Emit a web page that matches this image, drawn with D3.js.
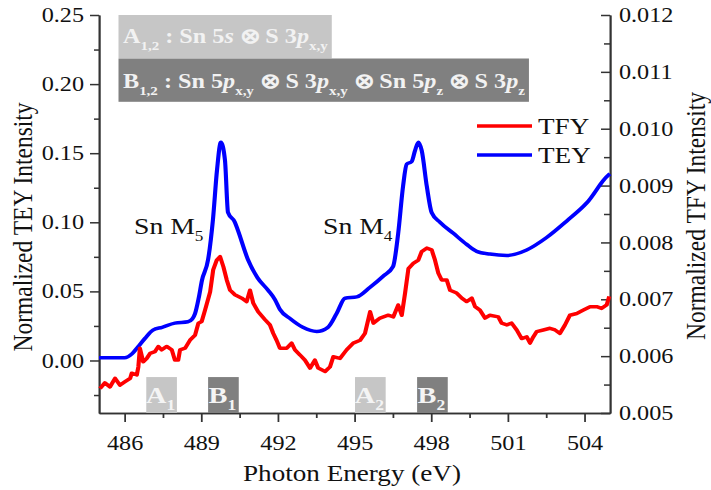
<!DOCTYPE html>
<html>
<head>
<meta charset="utf-8">
<script src="https://cdn.jsdelivr.net/npm/d3@7"></script>
<style>
  html, body { margin: 0; padding: 0; background: #fff; }
  svg { display: block; }
  text { font-family: "Liberation Serif", "Times New Roman", serif; fill: #111; }
  .axis path, .axis line { stroke: #333; stroke-width: 1.5; }
  .axis text { font-family: "Liberation Serif", "Times New Roman", serif; font-size: 20.5px; fill: #111; }
</style>
</head>
<body>
<svg id="chart"></svg>
<script>
// ---------- data ----------
const teyEnergy = [485.0, 485.5, 486.0, 486.3, 486.53, 486.8, 487.11, 487.47, 487.97, 488.48, 488.65, 488.76, 488.9,
  489.03, 489.27, 489.46, 489.62, 489.77, 489.93, 490.05, 490.32, 490.44, 490.83, 491.2, 491.61, 491.89, 492.08,
  492.5, 492.98, 493.52, 493.96, 494.3, 494.63, 495.09, 495.61, 496.12, 496.51, 496.71, 496.9, 497.04, 497.24,
  497.37, 497.5, 497.63, 497.83, 498.02, 498.35, 498.87, 499.39, 499.78, 500.3, 500.96, 501.74, 502.52, 503.31,
  504.09, 504.93, 505.0];
const teyValues = [0.002, 0.002, 0.002, 0.005, 0.010, 0.016, 0.022, 0.024, 0.027, 0.028, 0.030, 0.034, 0.045,
  0.058, 0.073, 0.102, 0.138, 0.158, 0.145, 0.107, 0.100, 0.094, 0.073, 0.060, 0.051, 0.044, 0.037,
  0.030, 0.024, 0.021, 0.024, 0.034, 0.045, 0.046, 0.053, 0.061, 0.068, 0.092, 0.126, 0.142, 0.144,
  0.152, 0.158, 0.152, 0.126, 0.107, 0.100, 0.092, 0.084, 0.079, 0.077, 0.076, 0.080, 0.089, 0.101,
  0.114, 0.134, 0.135];

const tfyEnergy = [485.04, 485.23, 485.43, 485.63, 485.82, 486.02, 486.22, 486.28, 486.48, 486.54, 486.6, 486.73,
  486.87, 487.0, 487.19, 487.32, 487.45, 487.65, 487.85, 487.97, 488.1, 488.17, 488.37, 488.56, 488.76, 488.89,
  489.02, 489.15, 489.35, 489.47, 489.61, 489.74, 489.87, 490.0, 490.13, 490.32, 490.59, 490.78, 490.91, 491.04,
  491.23, 491.5, 491.69, 491.82, 491.95, 492.08, 492.35, 492.54, 492.67, 492.87, 493.06, 493.26, 493.45, 493.58,
  493.85, 494.04, 494.17, 494.43, 494.69, 494.95, 495.22, 495.41, 495.61, 495.74, 496.0, 496.32, 496.52, 496.71,
  496.85, 496.98, 497.11, 497.3, 497.5, 497.63, 497.83, 498.02, 498.15, 498.28, 498.41, 498.61, 498.74, 499.0,
  499.2, 499.39, 499.59, 499.72, 499.91, 500.11, 500.3, 500.63, 500.76, 500.96, 501.15, 501.35, 501.54, 501.74,
  501.87, 502.0, 502.13, 502.39, 502.65, 502.85, 503.04, 503.24, 503.43, 503.7, 503.96, 504.22, 504.48, 504.67,
  504.87, 504.97];
const tfyValues = [0.00543, 0.00553, 0.00546, 0.00561, 0.00549, 0.00555, 0.00561, 0.00570, 0.00567, 0.00581, 0.00614, 0.00590,
  0.00596, 0.00605, 0.00608, 0.00617, 0.00611, 0.00617, 0.00611, 0.00593, 0.00593, 0.00611, 0.00614, 0.00628, 0.00637, 0.00658,
  0.00661, 0.00681, 0.00713, 0.00752, 0.00769, 0.00775, 0.00757, 0.00734, 0.00716, 0.00708, 0.00702, 0.00696, 0.00716, 0.00693,
  0.00678, 0.00664, 0.00655, 0.00640, 0.00628, 0.00614, 0.00614, 0.00623, 0.00611, 0.00602, 0.00593, 0.00579, 0.00593, 0.00579,
  0.00573, 0.00581, 0.00599, 0.00596, 0.00611, 0.00623, 0.00628, 0.00640, 0.00678, 0.00658, 0.00667, 0.00672, 0.00669, 0.00690,
  0.00672, 0.00711, 0.00754, 0.00763, 0.00769, 0.00784, 0.00790, 0.00787, 0.00769, 0.00746, 0.00734, 0.00734, 0.00716, 0.00711,
  0.00702, 0.00696, 0.00702, 0.00687, 0.00681, 0.00667, 0.00672, 0.00669, 0.00658, 0.00655, 0.00658, 0.00646, 0.00631, 0.00634,
  0.00623, 0.00634, 0.00643, 0.00646, 0.00649, 0.00646, 0.00640, 0.00655, 0.00672, 0.00675, 0.00681, 0.00687, 0.00687, 0.00684,
  0.00690, 0.00705];

const xTicks = [486, 489, 492, 495, 498, 501, 504];
const xMinorTicks = [487.5, 490.5, 493.5, 496.5, 499.5, 502.5];
const yLeftTicks = [0, 0.05, 0.10, 0.15, 0.20, 0.25];
const yLeftMinorTicks = [-0.025, 0.025, 0.075, 0.125, 0.175, 0.225];
const yRightTicks = [0.005, 0.006, 0.007, 0.008, 0.009, 0.010, 0.011, 0.012];
const yRightMinorTicks = [0.0055, 0.0065, 0.0075, 0.0085, 0.0095, 0.0105, 0.0115];

const markerNames = ['A', 'B', 'A', 'B'];
const markerSubs = ['1', '1', '2', '2'];
const markerCenters = [487.45, 489.87, 495.62, 498.05];
const markerTop = -0.012;
const markerHalfWidth = 0.6;

const seriesNames = ['TFY', 'TEY'];
const edgeLabels = [
  {name: 'Sn M', sub: '5', at: 134},
  {name: 'Sn M', sub: '4', at: 323}
];

// text of the two grey boxes at the top
const boxA = [{t: 'A'}, {t: '1,2', sub: true}, {t: ' : Sn 5'}, {t: 's', it: true}, {t: ' \u2297 S 3'}, {t: 'p', it: true}, {t: 'x,y', sub: true}];
const boxB = [{t: 'B'}, {t: '1,2', sub: true}, {t: ' : Sn 5'}, {t: 'p', it: true}, {t: 'x,y', sub: true},
  {t: ' \u2297 S 3'}, {t: 'p', it: true}, {t: 'x,y', sub: true}, {t: ' \u2297 Sn 5'}, {t: 'p', it: true}, {t: 'z', sub: true},
  {t: ' \u2297 S 3'}, {t: 'p', it: true}, {t: 'z', sub: true}];

// ---------- chart ----------
// the reference is stretched sideways, so draw in a narrower box and let the viewBox widen it
const SX = 1.18;
const vx = px => px / SX;

const chart = {
  option: {
    width: 711,
    height: 490,
    margin: {top: 15, right: 101, bottom: 77, left: 99},
    colors: {TFY: '#ff0000', TEY: '#0000ff', A: '#c6c6c6', B: '#808080'}
  }
};

function translate(x, y) {
  return `translate(${x}, ${y})`;
}

function richText(parent, parts, size) {
  const text = parent.append('text').style('font-size', size + 'px');
  let shift = 0;
  parts.forEach(p => {
    const want = p.sub ? size * 0.3 : 0;
    text.append('tspan')
      .attr('dy', want - shift)
      .style('font-size', p.sub ? (size * 0.62) + 'px' : null)
      .style('font-style', p.it ? 'italic' : null)
      .text(p.t);
    shift = want;
  });
  return text;
}

chart.init = function(chartId) {
  const opt = chart.option;
  const m = opt.margin;
  const svg = d3.select(`#${chartId}`)
    .attr('width', opt.width)
    .attr('height', opt.height)
    .attr('viewBox', `0 0 ${vx(opt.width)} ${opt.height}`)
    .attr('preserveAspectRatio', 'none');

  chart.svg = svg;
  chart.w = vx(opt.width - m.left - m.right);
  chart.h = opt.height - m.top - m.bottom;
  chart.g = svg.append('g').attr('transform', translate(vx(m.left), m.top));

  chart.x = d3.scaleLinear().domain([485, 505]).range([0, chart.w]);
  chart.yLeft = d3.scaleLinear().domain([-0.038, 0.25]).range([chart.h, 0]);
  chart.yRight = d3.scaleLinear().domain([0.005, 0.012]).range([chart.h, 0]);
};

chart.drawAxes = function() {
  const g = chart.g;

  g.append('g').attr('class', 'axis x-minor').attr('transform', translate(0, chart.h))
    .call(d3.axisBottom(chart.x).tickValues(xMinorTicks).tickSize(5).tickSizeOuter(0).tickFormat(''));
  g.append('g').attr('class', 'axis x').attr('transform', translate(0, chart.h))
    .call(d3.axisBottom(chart.x).tickValues(xTicks).tickSize(9).tickPadding(13).tickSizeOuter(0).tickFormat(d3.format('d')));

  g.append('g').attr('class', 'axis y-left-minor')
    .call(d3.axisLeft(chart.yLeft).tickValues(yLeftMinorTicks).tickSize(vx(5)).tickSizeOuter(0).tickFormat(''));
  g.append('g').attr('class', 'axis y-left')
    .call(d3.axisLeft(chart.yLeft).tickValues(yLeftTicks).tickSize(vx(9)).tickPadding(vx(6)).tickSizeOuter(0).tickFormat(d3.format('.2f')));

  g.append('g').attr('class', 'axis y-right-minor').attr('transform', translate(chart.w, 0))
    .call(d3.axisRight(chart.yRight).tickValues(yRightMinorTicks).tickSize(-vx(6)).tickSizeOuter(0).tickFormat(''));
  g.append('g').attr('class', 'axis y-right').attr('transform', translate(chart.w, 0))
    .call(d3.axisRight(chart.yRight).tickValues(yRightTicks).tickSize(-vx(9)).tickPadding(vx(9)).tickSizeOuter(0).tickFormat(d3.format('.3f')));

  // axis titles
  chart.svg.append('text')
    .attr('transform', `${translate(vx(32), 227)} rotate(-90)`)
    .attr('text-anchor', 'middle')
    .style('font-size', '23.5px')
    .text('Normalized TEY Intensity');
  chart.svg.append('text')
    .attr('transform', `${translate(vx(705), 216)} rotate(-90)`)
    .attr('text-anchor', 'middle')
    .style('font-size', '23.5px')
    .text('Normalized TFY Intensity');
  chart.svg.append('text')
    .attr('x', vx(352)).attr('y', 481)
    .attr('text-anchor', 'middle')
    .style('font-size', '23px')
    .text('Photon Energy (eV)');
};

chart.drawMarkers = function() {
  const x = chart.x, y = chart.yLeft;
  const markers = markerCenters.map((c, i) => ({c: c, name: markerNames[i], sub: markerSubs[i]}));

  const mk = chart.g.selectAll('.marker').data(markers).enter()
    .append('g').attr('class', 'marker');

  mk.append('rect')
    .attr('x', d => x(d.c - markerHalfWidth))
    .attr('y', y(markerTop))
    .attr('width', d => x(d.c + markerHalfWidth) - x(d.c - markerHalfWidth))
    .attr('height', chart.h - y(markerTop))
    .style('fill', d => chart.option.colors[d.name]);

  mk.each(function(d) {
    const t = richText(d3.select(this), [{t: d.name}, {t: d.sub, sub: true}], 24);
    t.attr('x', x(d.c) - vx(1)).attr('y', y(markerTop) + 26)
      .attr('text-anchor', 'middle')
      .style('font-weight', 'bold')
      .style('fill', '#f4f4f4');
    t.selectAll('tspan').style('fill', '#f4f4f4');
  });
};

chart.drawLines = function() {
  const x = chart.x;
  const teyLine = d3.line().x(d => x(d[0])).y(d => chart.yLeft(d[1])).curve(d3.curveMonotoneX);
  const tfyLine = d3.line().x(d => x(d[0])).y(d => chart.yRight(d[1]));

  chart.g.append('path')
    .attr('class', 'line tey')
    .attr('d', teyLine(d3.zip(teyEnergy, teyValues)))
    .style('fill', 'none')
    .style('stroke', chart.option.colors.TEY)
    .style('stroke-width', 3.5)
    .style('stroke-linejoin', 'round');

  chart.g.append('path')
    .attr('class', 'line tfy')
    .attr('d', tfyLine(d3.zip(tfyEnergy, tfyValues)))
    .style('fill', 'none')
    .style('stroke', chart.option.colors.TFY)
    .style('stroke-width', 3.5)
    .style('stroke-linejoin', 'round');
};

chart.drawLegend = function() {
  const rows = chart.svg.selectAll('.legend').data(seriesNames).enter()
    .append('g').attr('class', 'legend')
    .attr('transform', (d, i) => translate(0, 126 + i * 29));

  rows.append('line')
    .attr('x1', vx(477)).attr('x2', vx(532))
    .style('stroke', d => chart.option.colors[d])
    .style('stroke-width', 3.5);
  rows.append('text')
    .attr('x', vx(538)).attr('y', 8)
    .style('font-size', '23px')
    .text(d => d);
};

chart.drawNotes = function() {
  // edge labels
  edgeLabels.forEach(e => {
    richText(chart.svg, [{t: e.name}, {t: e.sub, sub: true}], 23.5)
      .attr('x', vx(e.at)).attr('y', 234);
  });

  // grey boxes at the top
  const boxes = [
    {parts: boxA, fill: chart.option.colors.A, y: 15, base: 43.5},
    {parts: boxB, fill: chart.option.colors.B, y: 58.5, base: 88.5}
  ];
  boxes.forEach(b => {
    const g = chart.svg.append('g');
    const rect = g.append('rect');
    const t = richText(g, b.parts, 20.5)
      .attr('x', vx(123)).attr('y', b.base)
      .style('font-weight', 'bold')
      .style('fill', '#f2f2f2');
    t.selectAll('tspan').style('fill', '#f2f2f2');
    const box = t.node().getBBox();
    rect.attr('x', vx(118.5)).attr('y', b.y)
      .attr('width', box.x + box.width + vx(4) - vx(118.5))
      .attr('height', 43.3)
      .style('fill', b.fill);
  });
};

chart.init('chart');
chart.drawAxes();
chart.drawMarkers();
chart.drawLines();
chart.drawLegend();
chart.drawNotes();
</script>
</body>
</html>
